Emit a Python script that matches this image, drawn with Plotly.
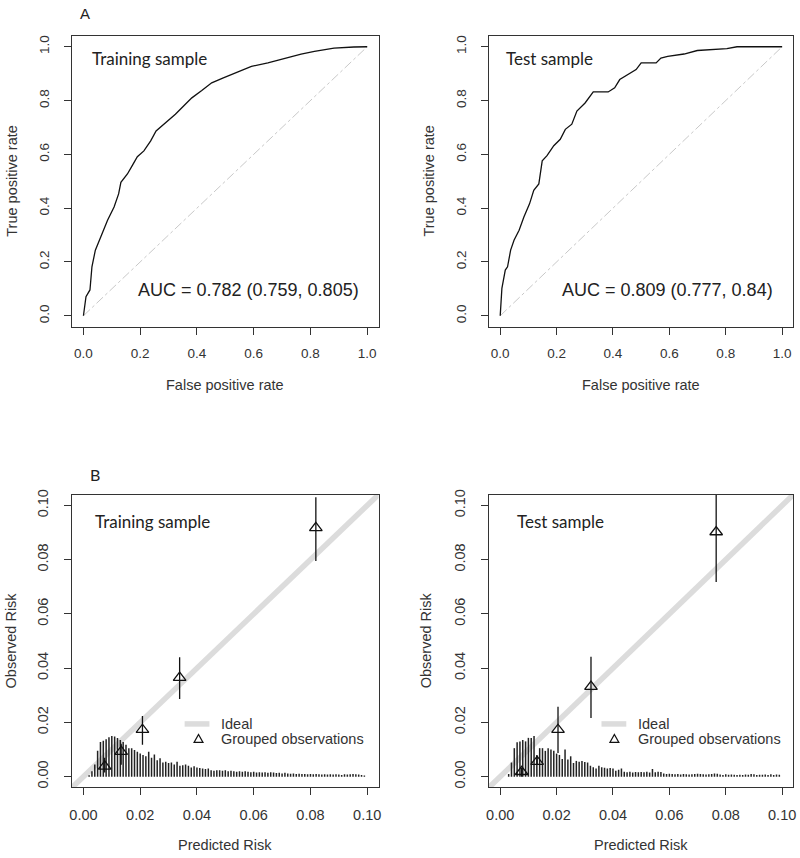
import plotly.graph_objects as go

W, H = 800, 858

# ---------------- data ----------------
roc_train_fpr = [0, 0.009, 0.023, 0.030, 0.042, 0.062, 0.085, 0.108, 0.124, 0.132, 0.155, 0.172, 0.190,
                 0.213, 0.237, 0.256, 0.289, 0.324, 0.353, 0.382, 0.417, 0.452, 0.493, 0.534, 0.592,
                 0.650, 0.709, 0.767, 0.814, 0.883, 0.953, 1.0]
roc_train_tpr = [0, 0.071, 0.096, 0.182, 0.244, 0.293, 0.355, 0.404, 0.453, 0.496, 0.527, 0.558, 0.591,
                 0.613, 0.650, 0.687, 0.718, 0.749, 0.780, 0.810, 0.837, 0.866, 0.884, 0.903, 0.927,
                 0.940, 0.958, 0.973, 0.983, 0.995, 0.999, 1.0]

roc_test_fpr = [0, 0.006, 0.018, 0.026, 0.037, 0.049, 0.067, 0.084, 0.104, 0.119, 0.137, 0.149, 0.166,
                0.190, 0.213, 0.231, 0.254, 0.272, 0.301, 0.330, 0.383, 0.406, 0.424, 0.453, 0.482,
                0.500, 0.553, 0.570, 0.594, 0.652, 0.699, 0.804, 0.840, 1.0]
roc_test_tpr = [0, 0.102, 0.170, 0.182, 0.244, 0.281, 0.318, 0.367, 0.416, 0.466, 0.490, 0.576, 0.595,
                0.632, 0.656, 0.693, 0.712, 0.761, 0.791, 0.832, 0.832, 0.847, 0.878, 0.897, 0.915,
                0.940, 0.940, 0.958, 0.964, 0.973, 0.986, 0.993, 1.0, 1.0]

auc_train_text = "AUC = 0.782 (0.759, 0.805)"
auc_test_text = "AUC = 0.809 (0.777, 0.84)"

# grouped observations (calibration)
cal_train_pred = [0.0075, 0.0133, 0.0208, 0.0339, 0.0819]
cal_train_obs = [0.0038, 0.0092, 0.0173, 0.0365, 0.0917]
cal_train_lo = [0.0015, 0.0044, 0.0118, 0.0286, 0.0795]
cal_train_hi = [0.0070, 0.0121, 0.0224, 0.0440, 0.1030]

cal_test_pred = [0.0076, 0.0131, 0.0205, 0.0322, 0.0766]
cal_test_obs = [0.0018, 0.0055, 0.0173, 0.0332, 0.0902]
cal_test_lo = [0.0000, 0.0044, 0.0087, 0.0216, 0.0718]
cal_test_hi = [0.0033, 0.0074, 0.0258, 0.0442, 0.1200]

# spike histogram of predicted risk (bins of 0.001)
spike_train_start = 0.002
spike_train_h = [0.0005, 0.0020, 0.0045, 0.0095, 0.0128, 0.0132, 0.0138, 0.0145, 0.0150, 0.0148,
                 0.0142, 0.0135, 0.0128, 0.0118, 0.0105, 0.0105, 0.0098, 0.0092, 0.0085, 0.0080,
                 0.0075, 0.0092, 0.0070, 0.0082, 0.0060, 0.0068, 0.0052, 0.0055, 0.0050, 0.0052,
                 0.0045, 0.0055, 0.0040, 0.0042, 0.0045, 0.0040, 0.0034, 0.0038, 0.0034, 0.0032,
                 0.0030, 0.0028, 0.0030, 0.0024, 0.0022, 0.0024, 0.0024, 0.0022, 0.0024, 0.0020,
                 0.0022, 0.0020, 0.0018, 0.0020, 0.0018, 0.0020, 0.0018, 0.0016, 0.0018, 0.0015,
                 0.0016, 0.0015, 0.0016, 0.0014, 0.0016, 0.0015, 0.0013, 0.0014, 0.0012, 0.0014,
                 0.0012, 0.0011, 0.0012, 0.0010, 0.0011, 0.0010, 0.0010, 0.0009, 0.0010, 0.0009,
                 0.0010, 0.0009, 0.0008, 0.0009, 0.0008, 0.0009, 0.0008, 0.0009, 0.0008, 0.0006,
                 0.0009, 0.0008, 0.0009, 0.0010, 0.0009, 0.0008, 0.0006, 0.0004]
spike_test_start = 0.003
spike_test_h = [0.0010, 0.0052, 0.0105, 0.0127, 0.0130, 0.0135, 0.0130, 0.0143, 0.0142, 0.0150,
                0.0080, 0.0105, 0.0105, 0.0095, 0.0105, 0.0100, 0.0095, 0.0085, 0.0080, 0.0065,
                0.0100, 0.0063, 0.0075, 0.0050, 0.0058, 0.0055, 0.0058, 0.0054, 0.0052, 0.0040,
                0.0035, 0.0030, 0.0040, 0.0035, 0.0033, 0.0030, 0.0032, 0.0030, 0.0022, 0.0025,
                0.0030, 0.0018, 0.0016, 0.0018, 0.0015, 0.0017, 0.0016, 0.0017, 0.0016, 0.0018,
                0.0015, 0.0028, 0.0016, 0.0018, 0.0017, 0.0012, 0.0010, 0.0011, 0.0010, 0.0009,
                0.0010, 0.0008, 0.0010, 0.0009, 0.0008, 0.0009, 0.0010, 0.0011, 0.0010, 0.0009,
                0.0008, 0.0009, 0.0010, 0.0012, 0.0011, 0.0008, 0.0006, 0.0009, 0.0007, 0.0008,
                0.0007, 0.0006, 0.0007, 0.0006, 0.0008, 0.0007, 0.0010, 0.0009, 0.0006, 0.0007,
                0.0007, 0.0008, 0.0006, 0.0009, 0.0006, 0.0008, 0.0007]
spike_step = 0.001

roc_ticks = [0, 0.2, 0.4, 0.6, 0.8, 1.0]
cal_ticks = [0, 0.02, 0.04, 0.06, 0.08, 0.10]
ideal_ends = [-0.02, 0.12]

# ---------------- helpers ----------------
def px(x):
    return x / W

def py(y):
    return 1 - y / H

AX_FONT = "Liberation Sans, Arial, sans-serif"
TXT = "#222222"
LINE = "#333333"

fig = go.Figure()

# ROC panels
for fx, ty, ax in [(roc_train_fpr, roc_train_tpr, ""), (roc_test_fpr, roc_test_tpr, "2")]:
    fig.add_trace(go.Scatter(x=[0, 1], y=[0, 1], mode="lines",
                             line=dict(color="#c8c8c8", width=1, dash="dashdot"),
                             xaxis="x" + ax, yaxis="y" + ax, showlegend=False, hoverinfo="skip"))
    fig.add_trace(go.Scatter(x=fx, y=ty, mode="lines", line=dict(color="#111111", width=1.3),
                             xaxis="x" + ax, yaxis="y" + ax, showlegend=False))

# Calibration panels
cal_sets = [
    (cal_train_pred, cal_train_obs, cal_train_lo, cal_train_hi, spike_train_start, spike_train_h, "3"),
    (cal_test_pred, cal_test_obs, cal_test_lo, cal_test_hi, spike_test_start, spike_test_h, "4"),
]
for pred, obs, lo, hi, s0, sh, ax in cal_sets:
    fig.add_trace(go.Scatter(x=ideal_ends, y=ideal_ends, mode="lines",
                             line=dict(color="#dcdcdc", width=5.5),
                             xaxis="x" + ax, yaxis="y" + ax, showlegend=False, hoverinfo="skip"))
    sx, sy = [], []
    for k, h in enumerate(sh):
        xv = round(s0 + k * spike_step, 4)
        sx += [xv, xv, None]
        sy += [0, h, None]
    fig.add_trace(go.Scatter(x=sx, y=sy, mode="lines", line=dict(color="#222222", width=1.5),
                             xaxis="x" + ax, yaxis="y" + ax, showlegend=False, hoverinfo="skip"))
    fig.add_trace(go.Scatter(
        x=pred, y=obs, mode="markers",
        marker=dict(symbol="triangle-up-open", size=11, color="#111111", line=dict(width=1.3, color="#111111")),
        error_y=dict(type="data", symmetric=False,
                     array=[h - o for h, o in zip(hi, obs)],
                     arrayminus=[o - l for o, l in zip(obs, lo)],
                     thickness=1.3, width=0, color="#111111"),
        xaxis="x" + ax, yaxis="y" + ax, showlegend=False))

# ---------------- axes ----------------
top_y = [py(323.8), py(31.2)]
bot_y = [py(788), py(493)]
left_x = [px(69.6), px(378.4)]
right_x = [px(489.6), px(796.4)]

def axis(domain, rng, ticks, fmt, anchor, is_y, size):
    d = dict(domain=domain, range=rng, tickvals=ticks, tickformat=fmt, ticks="outside", ticklen=7,
             tickcolor=LINE, tickwidth=1, showline=True, mirror=True, linecolor=LINE, linewidth=1,
             showgrid=False, zeroline=False, anchor=anchor,
             tickfont=dict(family=AX_FONT, size=size, color="#333333"))
    if is_y:
        d["tickangle"] = -90
        d["ticklabelstandoff"] = 10
    else:
        d["ticklabelstandoff"] = 7
    return d

roc_rng = [-0.04, 1.04]
cal_rng = [-0.004, 0.104]
fig.update_layout(
    xaxis=axis(left_x, roc_rng, roc_ticks, ".1f", "y", False, 13.5),
    yaxis=axis(top_y, roc_rng, roc_ticks, ".1f", "x", True, 13.5),
    xaxis2=axis(right_x, roc_rng, roc_ticks, ".1f", "y2", False, 13.5),
    yaxis2=axis(top_y, roc_rng, roc_ticks, ".1f", "x2", True, 13.5),
    xaxis3=axis(left_x, cal_rng, cal_ticks, ".2f", "y3", False, 14.5),
    yaxis3=axis(bot_y, cal_rng, cal_ticks, ".2f", "x3", True, 14.5),
    xaxis4=axis(right_x, cal_rng, cal_ticks, ".2f", "y4", False, 14.5),
    yaxis4=axis(bot_y, cal_rng, cal_ticks, ".2f", "x4", True, 14.5),
)

# ---------------- text ----------------
ann = []
def text(x, y, s, size, anchor="left", family=AX_FONT, angle=0, color=TXT):
    ann.append(dict(x=px(x), y=py(y), xref="paper", yref="paper", text=s, showarrow=False,
                    xanchor=anchor, yanchor="middle", textangle=angle,
                    font=dict(family=family, size=size, color=color)))

SAMPLE_FONT = "Lato, Open Sans, sans-serif"
text(83, 9, "A", 15, "center")
text(93, 473, "B", 16, "center", family=SAMPLE_FONT)
text(88, 54, "Training sample", 17, family=SAMPLE_FONT)
text(505, 54, "Test sample", 17, family=SAMPLE_FONT)
text(91, 520, "Training sample", 17, family=SAMPLE_FONT)
text(516, 520, "Test sample", 17, family=SAMPLE_FONT)
text(361, 287, auc_train_text, 18, "right")
text(778, 287, auc_test_text, 18, "right")
# axis titles
text(224, 383, "False positive rate", 14.5, "center", color="#333333")
text(643, 383, "False positive rate", 14.5, "center", color="#333333")
text(9, 177, "True positive rate", 14.5, "center", angle=-90, color="#333333")
text(429, 177, "True positive rate", 14.5, "center", angle=-90, color="#333333")
text(224, 846, "Predicted Risk", 14.5, "center", color="#333333")
text(643, 846, "Predicted Risk", 14.5, "center", color="#333333")
text(8, 640, "Observed Risk", 14.5, "center", angle=-90, color="#333333")
text(426, 640, "Observed Risk", 14.5, "center", angle=-90, color="#333333")

# legends (drawn manually)
shapes = []
for lx, tx, trx in [(183, 218, 197), (603, 638, 616)]:
    shapes.append(dict(type="line", xref="paper", yref="paper", x0=px(lx), x1=px(lx + 25),
                       y0=py(724), y1=py(724), line=dict(color="#dcdcdc", width=5.5)))
    text(tx, 724, "Ideal", 14.5, color="#333333")
    text(tx, 739, "Grouped observations", 14.5, color="#333333")
    s = 4.5
    path = "M {:.5f},{:.5f} L {:.5f},{:.5f} L {:.5f},{:.5f} Z".format(
        px(trx - s), py(739 + s * 0.8), px(trx + s), py(739 + s * 0.8), px(trx), py(739 - s * 1.0))
    shapes.append(dict(type="path", xref="paper", yref="paper", path=path,
                       line=dict(color="#111111", width=1.2)))

fig.update_layout(width=W, height=H, margin=dict(l=0, r=0, t=0, b=0),
                  paper_bgcolor="white", plot_bgcolor="white",
                  annotations=ann, shapes=shapes, showlegend=False)

fig.write_html("out.html", config={"displayModeBar": False},
               post_script="document.body.style.margin='0';document.body.style.overflow='hidden';")
